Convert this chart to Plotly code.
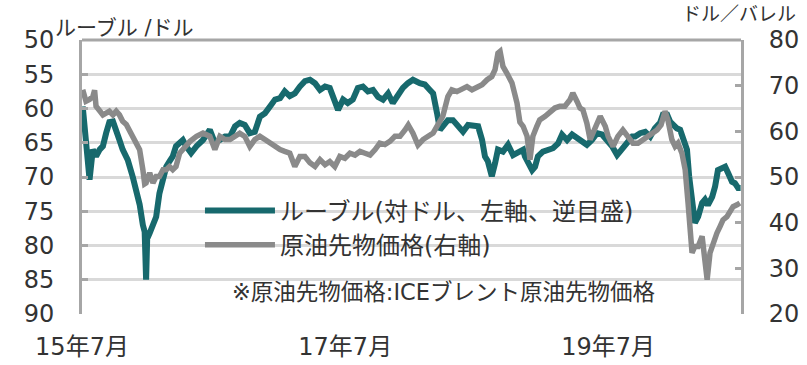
import plotly.graph_objects as go

# ---------------- data ----------------
ruble_name = "ルーブル(対ドル、左軸、逆目盛)"
oil_name = "原油先物価格(右軸)"

ruble_dates = [
    "2015-07-03", "2015-07-12", "2015-07-22", "2015-07-31", "2015-08-09", "2015-08-19", "2015-08-28",
    "2015-09-06", "2015-09-15", "2015-09-25", "2015-10-04", "2015-10-13", "2015-10-22", "2015-11-05",
    "2015-11-19", "2015-11-28", "2015-12-08", "2015-12-17", "2015-12-22", "2015-12-26", "2015-12-29",
    "2016-01-05", "2016-01-14", "2016-01-23", "2016-02-01", "2016-02-11", "2016-02-20", "2016-02-29",
    "2016-03-09", "2016-03-18", "2016-03-28", "2016-04-06", "2016-04-15", "2016-04-29", "2016-05-14",
    "2016-06-01", "2016-06-20", "2016-07-04", "2016-07-18", "2016-08-01", "2016-08-15", "2016-08-29",
    "2016-09-11", "2016-09-25", "2016-10-09", "2016-10-23", "2016-11-06", "2016-11-20", "2016-12-04",
    "2016-12-18",
    "2017-01-01", "2017-01-14", "2017-01-28", "2017-02-11", "2017-02-25", "2017-03-11", "2017-03-25",
    "2017-04-08", "2017-04-22", "2017-05-06", "2017-05-19", "2017-06-02", "2017-06-11", "2017-06-25",
    "2017-07-08", "2017-07-22", "2017-08-05", "2017-08-19", "2017-09-02", "2017-09-16", "2017-09-30",
    "2017-10-14", "2017-10-28", "2017-11-10", "2017-11-24", "2017-12-08", "2017-12-22",
    "2018-01-05", "2018-01-24", "2018-02-07", "2018-02-21", "2018-03-02", "2018-03-13", "2018-03-21",
    "2018-03-29", "2018-04-12", "2018-04-26", "2018-05-10", "2018-05-24", "2018-06-07", "2018-06-21",
    "2018-07-05", "2018-07-16", "2018-07-24", "2018-08-01", "2018-08-12", "2018-08-21", "2018-08-29",
    "2018-09-12", "2018-09-26", "2018-10-10", "2018-10-24", "2018-11-07", "2018-11-12", "2018-11-20",
    "2018-12-02", "2018-12-10", "2018-12-18",
    "2019-01-01", "2019-01-15", "2019-01-29", "2019-02-12", "2019-02-23", "2019-03-09", "2019-03-23",
    "2019-04-06", "2019-04-19", "2019-05-03", "2019-05-17", "2019-05-31", "2019-06-14", "2019-06-28",
    "2019-07-12", "2019-07-26", "2019-08-09", "2019-08-23", "2019-09-06", "2019-09-14", "2019-09-28",
    "2019-10-12", "2019-10-26", "2019-11-08", "2019-11-22", "2019-11-30", "2019-12-12", "2019-12-20",
    "2019-12-28",
    "2020-01-08", "2020-01-17", "2020-01-25", "2020-02-05", "2020-02-11", "2020-02-19", "2020-02-27",
    "2020-03-07", "2020-03-18", "2020-03-26", "2020-04-03", "2020-04-15", "2020-04-23", "2020-05-01",
    "2020-05-12", "2020-05-21", "2020-05-29", "2020-06-09", "2020-06-17", "2020-06-26", "2020-07-03",
]
ruble_values = [
    59.7, 64.0, 70.4, 66.0, 67.0, 66.0, 65.5,
    63.6, 62.0, 61.9, 63.0, 64.6, 66.0, 67.5,
    70.0, 72.0, 74.0, 77.0, 78.0, 85.0, 79.0,
    78.2, 77.2, 75.8, 72.4, 70.4, 68.5, 67.7,
    67.0, 65.5, 65.0, 64.6, 65.5, 66.5, 65.5,
    64.6, 63.1, 65.0, 64.6, 64.1, 64.1, 62.6,
    62.1, 62.4, 63.6, 63.4, 61.2, 60.7, 59.7,
    58.7,
    58.5, 57.5, 58.2, 57.8, 56.8, 56.0, 55.8,
    56.3, 57.3, 56.8, 57.0, 58.7, 60.2, 58.7,
    59.2, 58.7, 57.0, 56.8, 57.5, 57.3, 58.3,
    58.7, 57.8, 59.2, 58.0, 57.0, 56.3,
    55.8, 56.3, 56.5, 57.3, 57.8, 60.7, 63.1,
    62.6, 61.7, 61.7, 62.4, 63.4, 62.4, 62.6,
    62.6, 64.6, 67.0, 67.7, 69.9, 68.0, 66.0,
    66.3, 65.3, 66.8, 66.3, 66.0, 67.0, 68.0,
    69.0, 68.5, 67.0,
    66.3, 66.0, 65.8, 65.1, 63.8, 64.6, 63.8,
    64.3, 64.8, 65.3, 64.6, 63.6, 63.8, 64.6,
    65.5, 66.8, 66.0, 65.1, 64.1, 64.1, 63.6,
    63.4, 64.1, 62.9, 62.1, 60.9, 60.9, 61.9,
    62.4,
    62.9, 63.1, 64.1, 66.0, 69.9, 73.8, 76.7,
    75.8, 73.8, 73.3, 74.1, 72.9, 71.4, 69.0,
    68.7, 68.5, 69.4, 70.7, 70.9, 71.6, 71.6,
]

oil_dates = [
    "2015-07-03", "2015-07-12", "2015-07-22", "2015-07-31", "2015-08-05", "2015-08-09", "2015-08-19",
    "2015-08-28", "2015-09-06", "2015-09-15", "2015-09-25", "2015-10-04", "2015-10-13", "2015-10-22",
    "2015-11-01", "2015-11-10", "2015-11-19", "2015-11-28", "2015-12-08", "2015-12-17", "2015-12-22",
    "2015-12-26",
    "2016-01-05", "2016-01-14", "2016-01-23", "2016-02-01", "2016-02-11", "2016-02-20", "2016-02-29",
    "2016-03-09", "2016-03-18", "2016-03-28", "2016-04-06", "2016-04-15", "2016-04-26", "2016-05-14",
    "2016-06-01", "2016-06-20", "2016-07-04", "2016-07-18", "2016-08-01", "2016-08-15", "2016-08-29",
    "2016-09-11", "2016-09-25", "2016-10-09", "2016-10-23", "2016-11-06", "2016-11-20", "2016-12-04",
    "2016-12-18",
    "2017-01-01", "2017-01-14", "2017-01-28", "2017-02-11", "2017-02-25", "2017-03-11", "2017-03-25",
    "2017-04-08", "2017-04-22", "2017-05-06", "2017-05-19", "2017-06-02", "2017-06-16", "2017-06-30",
    "2017-07-14", "2017-07-28", "2017-08-11", "2017-08-25", "2017-09-08", "2017-09-22", "2017-10-05",
    "2017-10-19", "2017-11-02", "2017-11-16", "2017-11-30", "2017-12-14", "2017-12-23",
    "2018-01-05", "2018-01-19", "2018-02-02", "2018-02-16", "2018-03-02", "2018-03-15", "2018-03-29",
    "2018-04-12", "2018-04-23", "2018-05-07", "2018-05-21", "2018-06-04", "2018-06-18", "2018-07-02",
    "2018-07-16", "2018-07-30", "2018-08-12", "2018-08-21", "2018-08-29", "2018-09-04", "2018-09-12",
    "2018-09-23", "2018-10-07", "2018-10-21", "2018-10-29", "2018-11-07", "2018-11-18", "2018-11-26",
    "2018-12-04", "2018-12-15", "2018-12-23",
    "2019-01-07", "2019-01-21", "2019-02-03", "2019-02-17", "2019-03-03", "2019-03-17", "2019-03-25",
    "2019-04-06", "2019-04-14", "2019-04-22", "2019-05-03", "2019-05-12", "2019-05-20", "2019-05-31",
    "2019-06-09", "2019-06-23", "2019-07-01", "2019-07-15", "2019-07-28", "2019-08-11", "2019-08-25",
    "2019-09-08", "2019-09-22", "2019-10-06", "2019-10-20", "2019-11-03", "2019-11-14", "2019-11-25",
    "2019-12-06", "2019-12-14", "2019-12-25",
    "2020-01-03", "2020-01-11", "2020-01-22", "2020-01-31", "2020-02-08", "2020-02-14", "2020-02-19",
    "2020-02-27", "2020-03-07", "2020-03-18", "2020-03-26", "2020-04-01", "2020-04-09", "2020-04-17",
    "2020-04-28", "2020-05-07", "2020-05-15", "2020-05-26", "2020-06-04", "2020-06-12", "2020-06-23",
    "2020-07-01",
]
oil_values = [
    69.1, 66.6, 67.0, 67.6, 69.0, 65.5, 64.5,
    63.6, 64.0, 64.4, 63.6, 64.4, 63.6, 62.2,
    61.5, 60.3, 58.9, 57.6, 56.0, 51.6, 48.5,
    48.7,
    50.9, 48.7, 50.1, 50.1, 51.6, 51.6, 52.3,
    51.6, 52.3, 55.2, 56.0, 56.7, 57.8, 58.9,
    59.6, 58.9, 56.0, 58.9, 58.2, 58.2, 58.9,
    59.6, 58.9, 56.7, 58.2, 58.9, 58.2, 57.4,
    56.7,
    56.0, 55.6, 55.2, 52.3, 54.5, 54.5, 53.1,
    52.3, 53.8, 52.7, 53.4, 52.3, 54.5, 54.1,
    55.2, 54.8, 55.6, 55.2, 54.8, 56.0, 57.4,
    57.1, 57.8, 58.9, 58.9, 60.3, 61.4,
    59.6, 57.0, 58.2, 58.9, 59.6, 61.4, 63.3,
    67.6, 69.1, 68.7, 69.4, 69.8, 69.1, 69.8,
    70.2, 71.3, 72.0, 73.5, 77.1, 77.5, 74.2,
    72.7, 70.6, 66.2, 62.0, 61.1, 58.9, 53.8,
    58.9, 61.1, 62.5,
    63.3, 64.4, 65.1, 65.5, 65.5, 66.9, 68.4,
    66.5, 65.1, 64.7, 61.8, 58.2, 59.6, 61.8,
    63.3, 61.1, 58.9, 56.7, 58.9, 60.3, 58.9,
    57.4, 57.4, 58.2, 58.9, 59.6, 60.3, 61.4,
    64.4, 62.5, 58.2,
    56.7, 57.4, 55.2, 51.6, 44.3, 37.0, 33.4,
    34.8, 34.8, 37.0, 32.6, 27.5, 33.4, 35.5,
    37.7, 39.2, 40.6, 41.3, 42.8, 43.5, 43.9,
    44.3,
]

x_tick_dates = ["2015-07-01", "2017-07-01", "2019-07-01"]
x_tick_labels = ["15年7月", "17年7月", "19年7月"]
left_title = "ルーブル /ドル"
right_title = "ドル／バレル"
note_text = "※原油先物価格:ICEブレント原油先物価格"

# ---------------- style ----------------
FONT = "DejaVu Sans, Noto Sans CJK JP"
TEXT = "#333333"
TEAL = "#17696d"
GRAY = "#8a8a8a"
GRID = "#d9d9d9"
AXIS = "#a6a6a6"

fig = go.Figure()
fig.add_trace(go.Scatter(x=ruble_dates, y=ruble_values, name=ruble_name, mode="lines",
                         line=dict(color=TEAL, width=6), yaxis="y"))
fig.add_trace(go.Scatter(x=oil_dates, y=oil_values, name=oil_name, mode="lines",
                         line=dict(color=GRAY, width=5.5), yaxis="y2"))

fig.update_layout(
    width=807, height=365,
    margin=dict(l=82, r=66, t=40, b=51, pad=0),
    paper_bgcolor="white", plot_bgcolor="white",
    font=dict(family=FONT, color=TEXT, size=22),
    hovermode=False,
    showlegend=True,
    legend=dict(x=0.179, y=0.458, xanchor="left", yanchor="top",
                bgcolor="rgba(0,0,0,0)", font=dict(size=24, color=TEXT),
                itemwidth=70, tracegroupgap=0),
    xaxis=dict(type="date", range=["2015-07-01", "2020-07-04"], automargin=False,
               tickmode="array", tickvals=x_tick_dates, ticktext=x_tick_labels,
               showgrid=False, showline=False, zeroline=False, ticks="",
               tickfont=dict(size=24), ticklabelstandoff=16),
    yaxis=dict(range=[90, 50], tick0=50, dtick=5, showgrid=True, gridcolor=GRID, gridwidth=3,
               showline=True, linecolor=AXIS, linewidth=3, zeroline=False, automargin=False,
               ticks="inside", ticklen=6, tickwidth=3, tickcolor=AXIS,
               tickfont=dict(size=24), ticklabelstandoff=20),
    yaxis2=dict(range=[20, 80], tick0=20, dtick=10, overlaying="y", side="right",
                showgrid=False, showline=True, linecolor=AXIS, linewidth=3, zeroline=False,
                automargin=False,
                ticks="inside", ticklen=6, tickwidth=3, tickcolor=AXIS,
                tickfont=dict(size=24), ticklabelstandoff=20),
    shapes=[dict(type="line", xref="paper", yref="paper", x0=0, x1=1, y0=1, y1=1,
                 line=dict(color=AXIS, width=3))],
    annotations=[
        dict(text=left_title, xref="paper", yref="paper", x=-0.044, y=1.045,
             xanchor="left", yanchor="middle", showarrow=False, font=dict(size=21)),
        dict(text=right_title, xref="paper", yref="paper", x=1.087, y=1.095,
             xanchor="right", yanchor="middle", showarrow=False, font=dict(size=19)),
        dict(text=note_text, xref="paper", yref="paper", x=0.224, y=0.079,
             xanchor="left", yanchor="middle", showarrow=False, font=dict(size=22.5)),
    ],
)

# remove the browser's default 8px page margin so the figure sits at the window origin
fig.write_html("out.html", config={"displayModeBar": False},
               post_script="document.body.style.margin='0';")
